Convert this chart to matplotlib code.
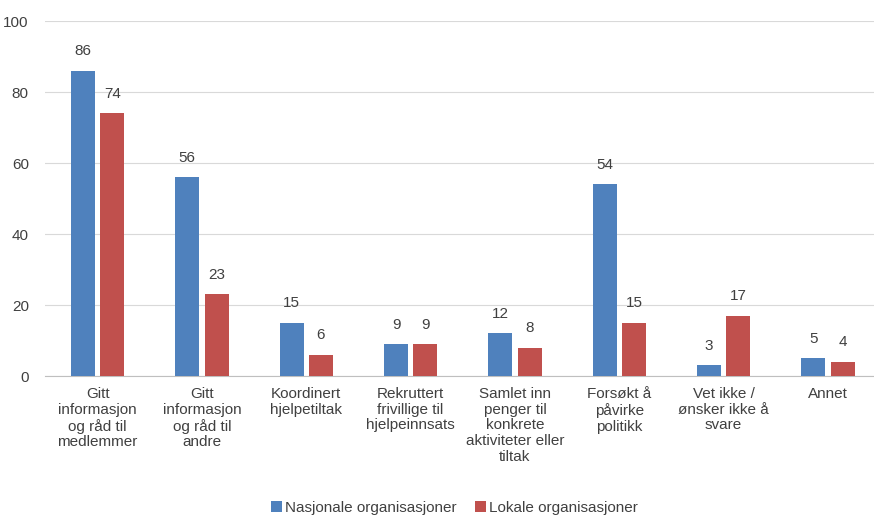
import matplotlib
matplotlib.use("Agg")
import matplotlib.pyplot as plt
import numpy as np

categories = ["Gitt\ninformasjon\nog råd til\nmedlemmer", "Gitt\ninformasjon\nog råd til\nandre",
              "Koordinert\nhjelpetiltak", "Rekruttert\nfrivillige til\nhjelpeinnsats",
              "Samlet inn\npenger til\nkonkrete\naktiviteter eller\ntiltak",
              "Forsøkt å\npåvirke\npolitikk", "Vet ikke /\nønsker ikke å\nsvare", "Annet"]
nasjonale = [86, 56, 15, 9, 12, 54, 3, 5]
lokale = [74, 23, 6, 9, 8, 15, 17, 4]

plt.rcParams['font.family'] = ['Liberation Sans', 'DejaVu Sans']
fig = plt.figure(figsize=(8.74, 5.19), dpi=100)
ax = fig.add_axes([0.052, 0.2755, 0.955, 0.684])
x = np.arange(len(categories))
w = 0.23
off = 0.14
b1 = ax.bar(x - off, nasjonale, w, color="#4F81BD", label="Nasjonale organisasjoner", zorder=3)
b2 = ax.bar(x + off, lokale, w, color="#C0504D", label="Lokale organisasjoner", zorder=3)
for bars in (b1, b2):
    ax.bar_label(bars, padding=9, fontsize=11, color="#404040")
ax.set_ylim(0, 100)
ax.set_xlim(-0.5, len(categories) - 0.5)
ax.set_yticks(range(0, 101, 20))
ax.yaxis.grid(True, color="#D9D9D9", linewidth=0.8, zorder=0)
for s in ["top", "right", "left"]:
    ax.spines[s].set_visible(False)
ax.spines["bottom"].set_color("#BFBFBF")
ax.tick_params(axis="y", length=0, labelsize=11, labelcolor="#404040", pad=12)
ax.tick_params(axis="x", length=0, labelsize=11, labelcolor="#404040", pad=8)
ax.set_xticks(x)
ax.set_xticklabels(categories, va="top", ha="center", linespacing=1.15)
fig.legend(handles=[b1, b2], loc="lower center", bbox_to_anchor=(0.52, -0.018), ncol=2,
           frameon=False, fontsize=11, handlelength=0.7, handleheight=0.7,
           handletextpad=0.2, columnspacing=1.2, labelcolor="#404040")
fig.savefig("out.png", dpi=100)
